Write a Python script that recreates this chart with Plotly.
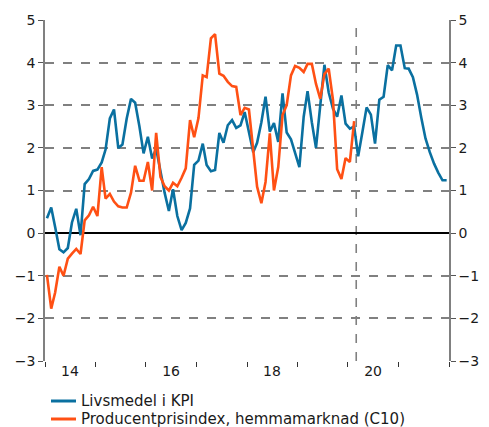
import pandas as pd
import plotly.graph_objects as go

# Monthly data (Jan 2014 onward)
livsmedel_kpi = [
    0.35, 0.60, 0.15, -0.38, -0.45, -0.35, 0.25, 0.57, -0.05, 1.15, 1.27, 1.46,
    1.49, 1.66, 1.96, 2.69, 2.90, 2.00, 2.08, 2.69, 3.15, 3.06, 2.50, 1.87,
    2.26, 1.75, 1.98, 1.44, 0.95, 0.52, 1.03, 0.40, 0.07, 0.24, 0.58, 1.60,
    1.70, 2.10, 1.60, 1.45, 1.48, 2.35, 2.12, 2.53, 2.65, 2.47, 2.53, 2.84,
    2.33, 1.90, 2.12, 2.60, 3.20, 2.38, 2.58, 2.14, 3.28, 2.36, 2.20, 1.90,
    1.55, 2.73, 3.33, 2.60, 2.00, 3.00, 3.95, 3.30, 2.92, 2.73, 3.23, 2.57,
    2.45, 2.50, 1.80, 2.38, 2.95, 2.78, 2.10, 3.13, 3.20, 3.94, 3.82, 4.40,
    4.40, 3.87, 3.86, 3.66, 3.25, 2.70, 2.22, 1.90, 1.63, 1.42, 1.24, 1.24,
]
producentpris_c10 = [
    -0.98, -1.77, -1.40, -0.79, -1.00, -0.60, -0.48, -0.37, -0.49, 0.30, 0.42, 0.62,
    0.40, 1.55, 0.81, 0.92, 0.74, 0.63, 0.60, 0.60, 0.95, 1.58, 1.23, 1.23,
    1.67, 1.00, 2.35, 1.32, 1.10, 1.00, 1.18, 1.10, 1.30, 1.52, 2.65, 2.25,
    2.70, 3.70, 3.66, 4.57, 4.67, 3.74, 3.69, 3.55, 3.45, 3.43, 2.77, 2.94,
    2.90, 1.98, 1.09, 0.70, 1.20, 2.34, 1.00, 1.55, 2.77, 3.00, 3.70, 3.92,
    3.88, 3.78, 3.97, 3.97, 3.50, 3.15, 3.73, 3.86, 3.12, 1.50, 1.27, 1.76,
    1.67, 2.63,
]
series_names = ["Livsmedel i KPI", "Producentprisindex, hemmamarknad (C10)"]
series_colors = ["#0a70a0", "#ff5014"]
x_tick_values = ["2014-07-01", "2016-07-01", "2018-07-01", "2020-07-01"]
x_tick_labels = ["14", "16", "18", "20"]
y_ticks = [-3, -2, -1, 0, 1, 2, 3, 4, 5]
forecast_start = "2020-03-01"

dates_blue = pd.date_range("2014-01-01", periods=len(livsmedel_kpi), freq="MS") + pd.Timedelta(days=14)
dates_orange = pd.date_range("2014-01-01", periods=len(producentpris_c10), freq="MS") + pd.Timedelta(days=14)

GRID = "#808080"
FONT = dict(family="DejaVu Sans, Verdana, sans-serif", size=14, color="#1a1a1a")
LEGEND_FONT = dict(FONT, size=15)

W, H = 489, 427
L, R, T, B = 45, 40, 20, 66
PW, PH = W - L - R, H - T - B

fig = go.Figure()
fig.add_trace(go.Scatter(x=dates_blue, y=livsmedel_kpi, mode="lines", name=series_names[0],
                         line=dict(color=series_colors[0], width=2.6), showlegend=False))
fig.add_trace(go.Scatter(x=dates_orange, y=producentpris_c10, mode="lines", name=series_names[1],
                         line=dict(color=series_colors[1], width=2.6), showlegend=False))
# invisible trace so the right axis renders
fig.add_trace(go.Scatter(x=[dates_blue[0]], y=[0], yaxis="y2", mode="lines",
                         showlegend=False, hoverinfo="skip", line=dict(width=0)))

fig.add_shape(type="line", xref="x", yref="paper", x0=forecast_start, x1=forecast_start,
              y0=0, y1=1, line=dict(color=GRID, width=1.6, dash="dash"), layer="below")

# legend drawn below the plot (row centres in pixels)
legend_rows_px = [401, 419]
for name, color, ypx in zip(series_names, series_colors, legend_rows_px):
    yp = (H - B - ypx) / PH
    fig.add_shape(type="line", xref="paper", yref="paper",
                  x0=(51 - L) / PW, x1=(76 - L) / PW, y0=yp, y1=yp,
                  line=dict(color=color, width=3))
    fig.add_annotation(xref="paper", yref="paper", x=(79 - L) / PW, y=yp,
                       xanchor="left", yanchor="middle", text=name, showarrow=False,
                       font=LEGEND_FONT)

fig.update_layout(
    width=W, height=H,
    margin=dict(l=L, r=R, t=T, b=B, autoexpand=False),
    paper_bgcolor="white", plot_bgcolor="white",
    font=FONT,
    showlegend=False,
    xaxis=dict(type="date", range=["2014-01-01", "2022-01-01"],
               tickvals=x_tick_values, ticktext=x_tick_labels, ticks="",
               showgrid=False, zeroline=False, showline=False,
               minor=dict(tick0="2014-01-01", dtick="M12", ticks="outside", ticklen=5,
                          tickcolor="#333333", tickwidth=1, showgrid=False),
               tickfont=FONT),
    yaxis=dict(range=[-3, 5], tickvals=y_ticks, ticks="outside", ticklen=5,
               tickcolor="#555555", showline=True, linecolor=GRID, linewidth=1.5,
               showgrid=True, gridcolor=GRID, gridwidth=1.5, griddash="dash",
               zeroline=True, zerolinecolor="#000000", zerolinewidth=1.5,
               tickfont=FONT),
    yaxis2=dict(range=[-3, 5], tickvals=y_ticks, overlaying="y", side="right", anchor="x",
                ticks="outside", ticklen=5, tickcolor="#555555",
                showline=True, linecolor=GRID, linewidth=1.5, showgrid=False, zeroline=False,
                tickfont=FONT),
)

fig.write_html("out.html", config={"displayModeBar": False},
               post_script="document.body.style.margin='0';document.body.style.overflow='hidden';")
